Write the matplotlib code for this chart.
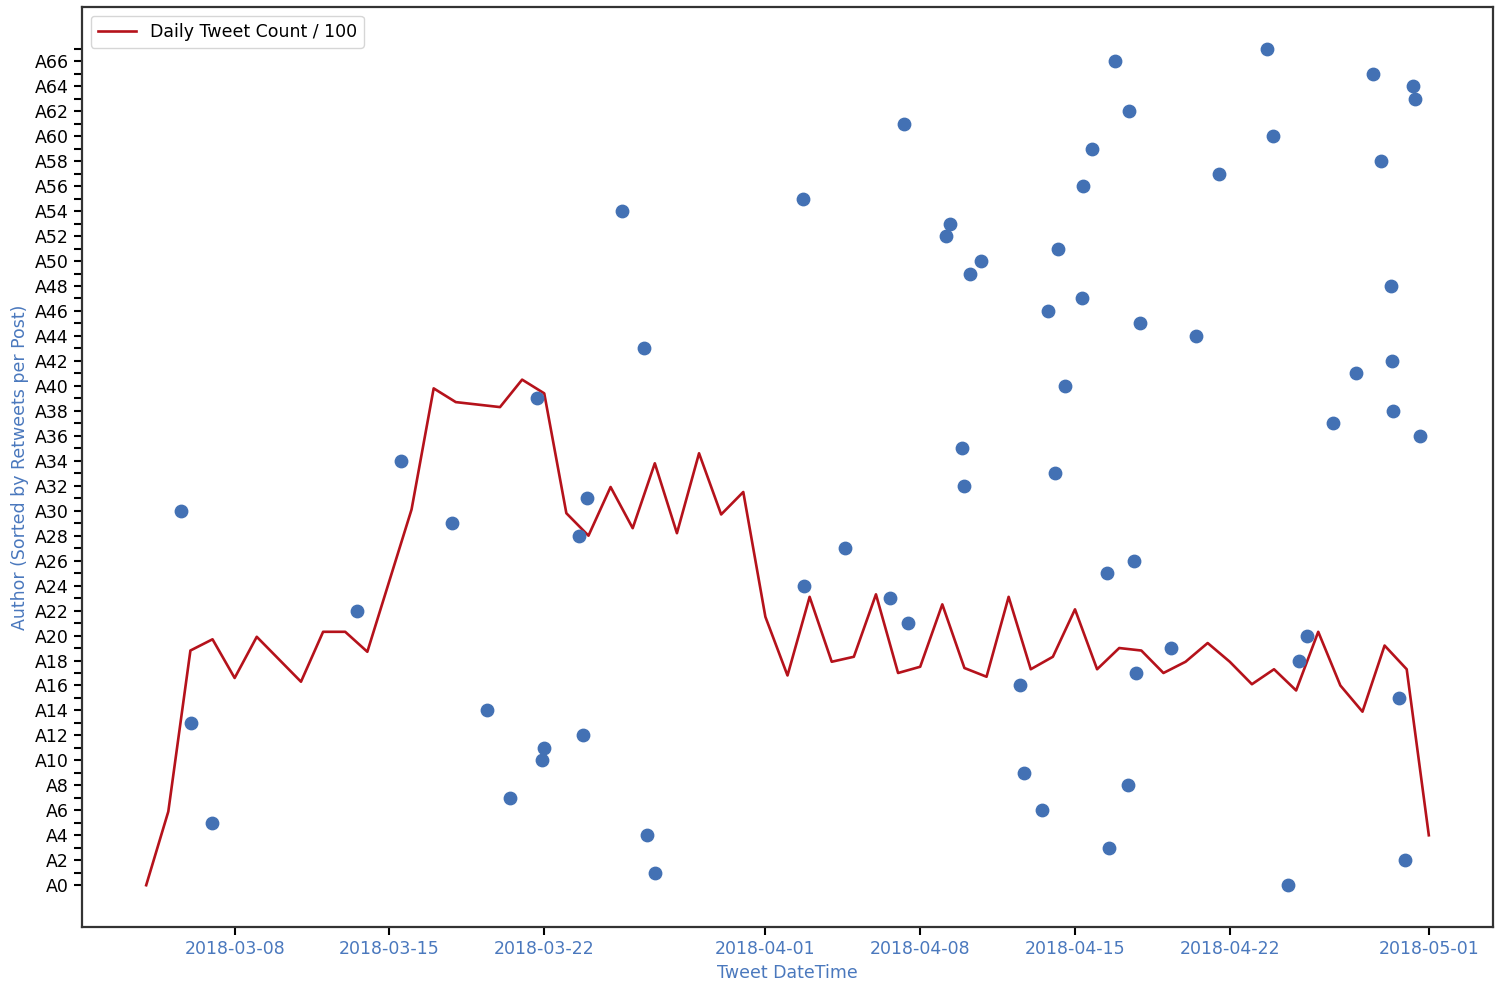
import matplotlib
matplotlib.use("Agg")
import matplotlib.pyplot as plt
import matplotlib.dates as mdates
import numpy as np
import pandas as pd

# ---- data ----
author_ids = list(range(68))
author_times = [
    "2018-04-24 15:36", "2018-03-27 00:00", "2018-04-29 22:30", "2018-04-16 12:30",
    "2018-03-26 15:20", "2018-03-06 23:30", "2018-04-13 11:45", "2018-03-20 10:50",
    "2018-04-17 10:00", "2018-04-12 16:10", "2018-03-21 21:25", "2018-03-21 23:35",
    "2018-03-23 18:00", "2018-03-06 00:45", "2018-03-19 09:50", "2018-04-29 16:00",
    "2018-04-12 11:50", "2018-04-17 17:45", "2018-04-25 03:35", "2018-04-19 07:40",
    "2018-04-25 12:15", "2018-04-07 10:20", "2018-03-13 12:45", "2018-04-06 14:55",
    "2018-04-02 17:35", "2018-04-16 11:15", "2018-04-17 15:35", "2018-04-04 14:10",
    "2018-03-23 13:40", "2018-03-17 19:55", "2018-03-05 13:55", "2018-03-23 22:15",
    "2018-04-09 23:05", "2018-04-14 02:50", "2018-03-15 12:30", "2018-04-09 20:55",
    "2018-04-30 14:40", "2018-04-26 16:20", "2018-04-29 09:25", "2018-03-21 16:05",
    "2018-04-14 13:40", "2018-04-27 17:20", "2018-04-29 08:25", "2018-03-26 12:00",
    "2018-04-20 11:50", "2018-04-17 22:05", "2018-04-13 18:15", "2018-04-15 07:10",
    "2018-04-29 07:15", "2018-04-10 05:35", "2018-04-10 17:30", "2018-04-14 05:05",
    "2018-04-09 03:35", "2018-04-09 07:55", "2018-03-25 12:15", "2018-04-02 16:30",
    "2018-04-15 08:10", "2018-04-21 11:45", "2018-04-28 20:25", "2018-04-15 18:00",
    "2018-04-23 23:20", "2018-04-07 06:00", "2018-04-17 10:05", "2018-04-30 09:20",
    "2018-04-30 07:10", "2018-04-28 11:45", "2018-04-16 18:55", "2018-04-23 16:50",
]

daily_start = "2018-03-04"
daily_count_div100 = [
    0.0, 5.9, 18.8, 19.7, 16.6, 19.9, 18.1, 16.3, 20.3, 20.3,
    18.7, 24.4, 30.1, 39.8, 38.7, 38.5, 38.3, 40.5, 39.4, 29.8,
    28.0, 31.9, 28.6, 33.8, 28.2, 34.6, 29.7, 31.5, 21.5, 16.8,
    23.1, 17.9, 18.3, 23.3, 17.0, 17.5, 22.5, 17.4, 16.7, 23.1,
    17.3, 18.3, 22.1, 17.3, 19.0, 18.8, 17.0, 17.9, 19.4, 17.9,
    16.1, 17.3, 15.6, 20.3, 16.0, 13.9, 19.2, 17.3, 4.0,
]

x_tick_dates = ["2018-03-08", "2018-03-15", "2018-03-22", "2018-04-01",
                "2018-04-08", "2018-04-15", "2018-04-22", "2018-05-01"]

# ---- plot ----
plt.rcParams['font.family'] = ['DejaVu Sans']
fig = plt.figure(figsize=(15, 9.86), dpi=100)
ax = fig.add_axes([0.0547, 0.0598, 0.9406, 0.9331])

blue = '#4371b4'
red = '#b5121b'
label_blue = '#4a78bd'

t_auth = pd.to_datetime(author_times)
ax.scatter(t_auth, author_ids, s=80, color=blue, zorder=3)

days = pd.date_range(daily_start, periods=len(daily_count_div100), freq='D')
ax.plot(days, daily_count_div100, color=red, lw=1.9, label='Daily Tweet Count / 100', zorder=2)

# y axis
ax.set_yticks(author_ids)
ax.set_yticklabels([f"A{i}" if i % 2 == 0 else "" for i in author_ids])
ax.set_ylim(-3.35, 70.35)

# x axis
ax.set_xticks(pd.to_datetime(x_tick_dates))
ax.xaxis.set_major_formatter(mdates.DateFormatter('%Y-%m-%d'))
ax.set_xlim(pd.Timestamp("2018-03-04") - pd.Timedelta(days=2.9),
            pd.Timestamp("2018-05-01") + pd.Timedelta(days=2.9))

ax.tick_params(axis='both', labelsize=12.5, width=1.5, length=6)
ax.tick_params(axis='x', labelcolor=label_blue)
for s in ax.spines.values():
    s.set_linewidth(1.6)
    s.set_color('#333333')

ax.set_xlabel('Tweet DateTime', color=label_blue, fontsize=12.5, labelpad=4)
ax.set_ylabel('Author (Sorted by Retweets per Post)', color=label_blue, fontsize=12.5, labelpad=4)

ax.legend(loc='upper left', fontsize=12.5, handlelength=2.2, borderaxespad=0.5)

fig.savefig('out.png', dpi=100)
